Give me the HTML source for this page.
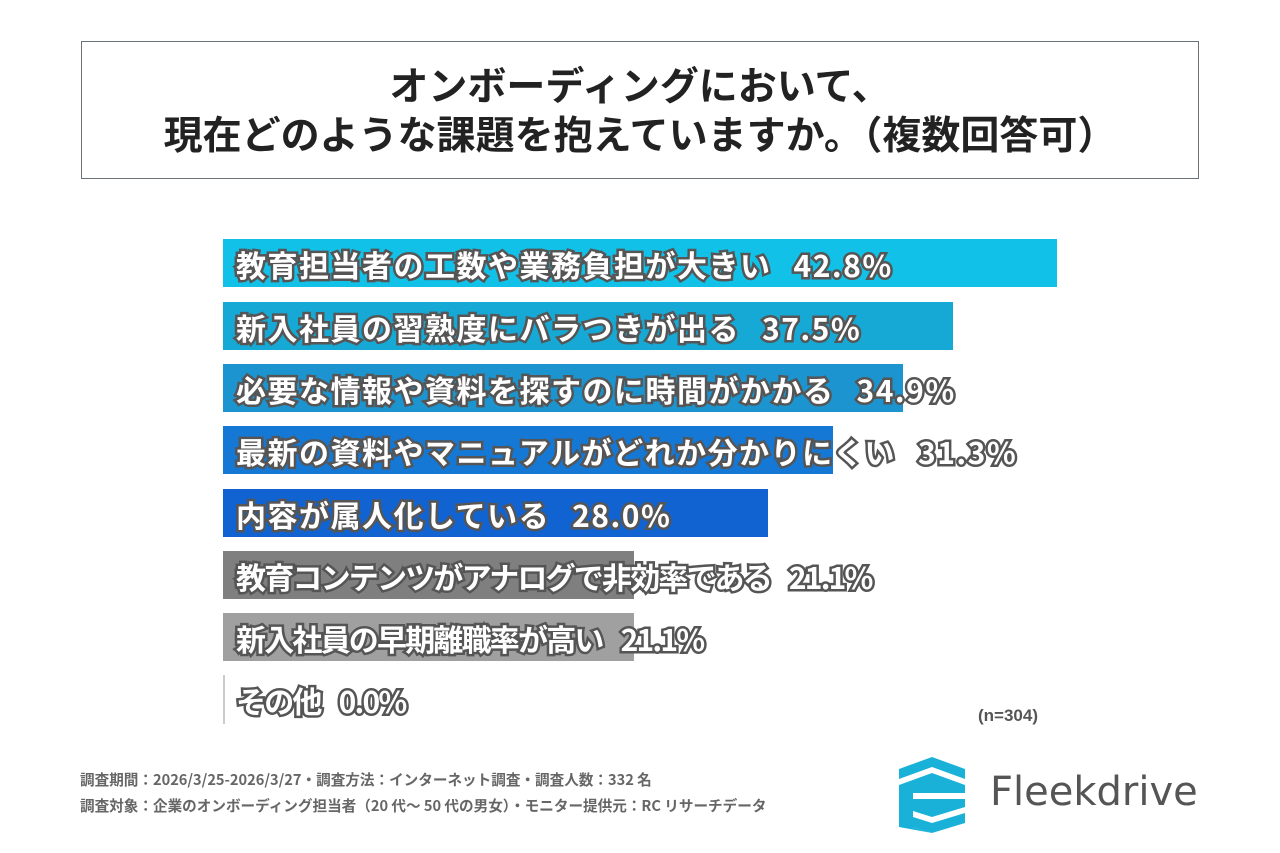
<!DOCTYPE html>
<html><head><meta charset="utf-8"><style>
body{margin:0;width:1280px;height:853px;background:#fff;position:relative;overflow:hidden;font-family:"Liberation Sans","Noto Sans CJK JP",sans-serif}
.title{position:absolute;left:81px;top:41px;width:1118px;height:138px;border:1.5px solid #6b7378;text-align:center;font-weight:bold;font-size:39px;line-height:49px;color:#222;padding-top:18px;box-sizing:border-box;font-family:"Noto Sans CJK JP",sans-serif}
.bar{position:absolute;left:223px;height:48px}
.lbl{position:absolute;left:236px;font-size:30px;font-weight:bold;color:#fff;-webkit-text-stroke:5px #555;paint-order:stroke fill;white-space:pre;line-height:48px;letter-spacing:1.5px;font-family:"Noto Sans CJK JP",sans-serif}
.lbl b{display:inline-block;width:22px}
.lbl.t{letter-spacing:-1.8px}
.lbl.t b{width:18px}
.foot{position:absolute;left:80px;font-size:14.6px;font-weight:bold;color:#666;white-space:pre;font-family:"Noto Sans CJK JP",sans-serif}
</style></head><body>
<div class="title">オンボーディングにおいて、<br>現在どのような課題を抱えていますか。（複数回答可）</div>

<div class="bar" style="top:239px;width:834px;background:#12c1e8"></div>
<div class="bar" style="top:302px;width:730px;background:#17a9d6"></div>
<div class="bar" style="top:364px;width:680px;background:#1b94cf"></div>
<div class="bar" style="top:426px;width:610px;background:#1578d4"></div>
<div class="bar" style="top:489px;width:545px;background:#1263d2"></div>
<div class="bar" style="top:551px;width:411px;background:#7f7f7f"></div>
<div class="bar" style="top:613px;width:411px;background:#a0a0a0"></div>
<div class="bar" style="top:675px;width:2px;height:49px;background:#ccc"></div>

<div class="lbl" style="top:240px">教育担当者の工数や業務負担が大きい<b></b>42.8%</div>
<div class="lbl" style="top:303px">新入社員の習熟度にバラつきが出る<b></b>37.5%</div>
<div class="lbl" style="top:365px">必要な情報や資料を探すのに時間がかかる<b></b>34.9%</div>
<div class="lbl" style="top:427px">最新の資料やマニュアルがどれか分かりにくい<b></b>31.3%</div>
<div class="lbl" style="top:490px">内容が属人化している<b></b>28.0%</div>
<div class="lbl t" style="top:552px">教育コンテンツがアナログで非効率である<b></b>21.1%</div>
<div class="lbl t" style="top:614px">新入社員の早期離職率が高い<b></b>21.1%</div>
<div class="lbl t" style="top:676px">その他<b></b>0.0%</div>

<div style="position:absolute;left:978px;top:706px;font-size:17px;font-weight:bold;color:#555">(n=304)</div>

<div class="foot" style="top:769px">調査期間：2026/3/25-2026/3/27・調査方法：インターネット調査・調査人数：332 名</div>
<div class="foot" style="top:795px">調査対象：企業のオンボーディング担当者（20 代～ 50 代の男女）・モニター提供元：RC リサーチデータ</div>

<svg style="position:absolute;left:895px;top:755px" width="80" height="80" viewBox="0 0 80 80">
<path d="M4 14 L37 2 L70 14 L70 24 L37 12 L4 24 Z" fill="#1ab1d9"/>
<path d="M4 30 L37 18 L70 30 L70 38 L18 38 L18 72 L37 78 L4 72 Z" fill="#1ab1d9"/>
<path d="M18 44 L70 44 L70 52 L37 62 L18 56 Z" fill="#1ab1d9"/>
<path d="M18 62 L37 68 L70 58 L70 68 L37 78 L18 72 Z" fill="#1ab1d9"/>
</svg>
<div style="position:absolute;left:990px;top:769px;font-size:40px;color:#555;font-family:'DejaVu Sans','Liberation Sans',sans-serif">Fleekdrive</div>
</body></html>
